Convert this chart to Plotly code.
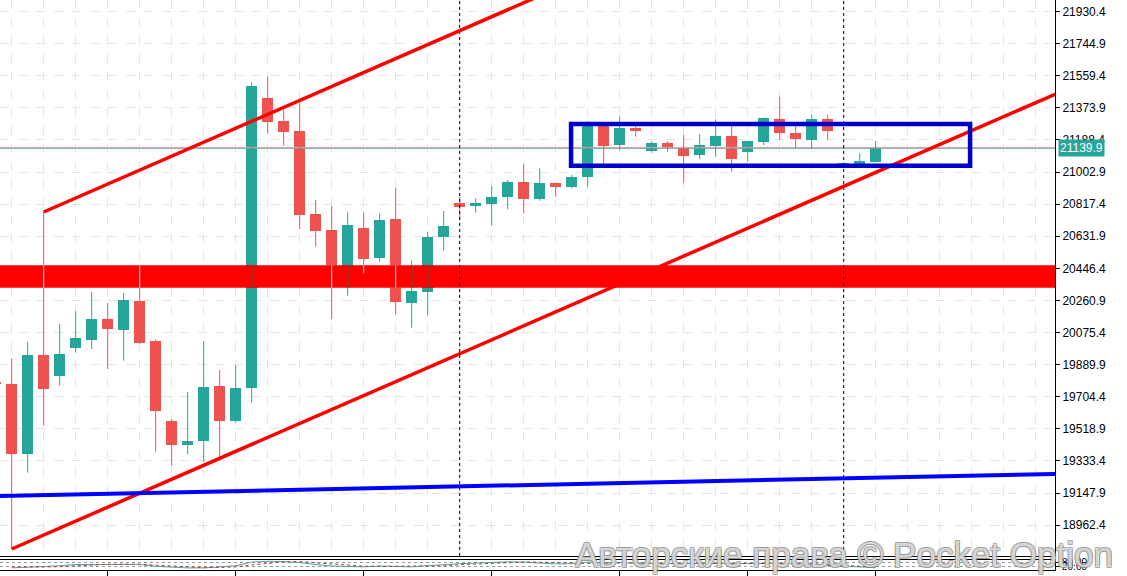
import plotly.graph_objects as go

# ---------------- data ----------------
bar_index = list(range(-1, 55))
opens = [19792.2, 19777.8, 19375.0, 19945.4, 19825.7, 19987.5, 20033.8, 20153.4, 20089.8, 20257.4,
         20026.3, 19563.9, 19427.0, 19450.1, 19766.2, 19565.7, 19756.4, 21432.3, 21297.6, 21239.9,
         20760.2, 20667.7, 20446.4, 20679.3, 20507.6, 20731.3, 20247.6, 20311.2, 20625.5, 20822.0,
         20808.2, 20819.7, 20860.2, 20946.9, 20846.9, 20937.6, 20918.0, 20972.3, 21274.5, 21158.9,
         21255.5, 21126.0, 21172.2, 21143.3, 21101.2, 21153.2, 21210.9, 21120.2, 21178.0, 21307.5,
         21230.0, 21187.8, 21307.5, 21049.1, 21049.1, 21062.4]
highs = [19812.4, 19926.3, 20022.2, 20771.8, 20124.5, 20199.6, 20309.4, 20245.9, 20303.7, 20465.5,
         20036.1, 19573.8, 19731.5, 20026.3, 19858.7, 19885.8, 21521.3, 21553.7, 21361.2, 21403.4,
         20841.1, 20806.4, 20770.0, 20770.0, 20764.3, 20908.7, 20490.3, 20657.9, 20777.5, 20860.2,
         20850.9, 20922.0, 20956.7, 21049.1, 21024.3, 20939.3, 20985.6, 21297.6, 21291.9, 21322.5,
         21268.7, 21182.1, 21182.1, 21216.7, 21222.5, 21307.5, 21268.7, 21182.1, 21319.0, 21438.1,
         21268.7, 21332.3, 21332.3, 21057.8, 21111.0, 21182.1]
lows = [19766.2, 18824.2, 19265.1, 19536.8, 19767.9, 19958.6, 19980.0, 19864.4, 19912.4, 20008.9,
        19386.5, 19305.6, 19371.5, 19328.7, 19357.6, 19554.1, 19669.7, 21226.6, 21154.9, 20673.5,
        20571.2, 20151.7, 20288.1, 20417.5, 20484.5, 20180.6, 20103.1, 20172.5, 20548.1, 20725.5,
        20767.7, 20692.6, 20787.4, 20764.3, 20837.1, 20860.2, 20908.7, 20918.0, 21049.1, 21130.0,
        21206.9, 21114.4, 21120.2, 20941.1, 21078.0, 21091.3, 21004.6, 21062.4, 21158.9, 21187.8,
        21143.3, 21139.9, 21187.8, 21049.1, 21049.1, 21062.4]
closes = [19777.8, 19375.0, 19945.4, 19747.1, 19951.1, 20043.6, 20153.4, 20097.3, 20263.2, 20016.4,
          19623.5, 19427.0, 19448.4, 19760.4, 19565.7, 19754.6, 21499.9, 21293.6, 21235.8, 20754.4,
          20663.7, 20446.4, 20696.6, 20501.9, 20725.5, 20253.4, 20315.2, 20629.0, 20690.8, 20802.4,
          20822.0, 20858.4, 20946.9, 20848.6, 20937.6, 20918.0, 20972.3, 21286.1, 21154.9, 21255.5,
          21245.6, 21172.2, 21143.3, 21097.1, 21158.9, 21210.9, 21078.0, 21182.1, 21313.2, 21226.6,
          21193.6, 21307.5, 21241.6, 21057.8, 21066.5, 21139.9]

band_levels = [20333.7, 20463.7]          # red support zone
channel_slope = 40.3                      # price per bar of the red channel
upper_anchor_bar = 2                      # channel top starts at this bar's high
lower_anchor_bar = 0                      # channel bottom starts at this bar's low
blue_line_x = [-1, 66]
blue_line_y = [19130.0, 19259.2]
box_x = [34.96, 59.9]
box_y = [21038.8, 21280.3]
marker_bars = [28, 52]

y_tick_labels = ["18962.4", "19147.9", "19333.4", "19518.9", "19704.4", "19889.9", "20075.4",
                 "20260.9", "20446.4", "20631.9", "20817.4", "21002.9", "21188.4", "21373.9",
                 "21559.4", "21744.9", "21930.4"]
x_tick_bars = [6, 14, 22, 30, 38, 46, 54]

osc_bars = list(range(0, 55))
osc_main = [20, 25, 30, 40, 52, 52, 58, 58, 52, 35, 25, 20, 20, 28, 40, 75, 83, 80, 70, 52, 38, 33,
            30, 38, 35, 30, 40, 52, 60, 66, 75, 78, 75, 66, 58, 60, 75, 72, 68, 62, 58, 60, 62, 65,
            63, 60, 62, 65, 63, 58, 52, 45, 35, 28, 22]
osc_signal = [30, 28, 28, 32, 40, 48, 54, 56, 55, 46, 36, 28, 22, 24, 30, 48, 65, 78, 80, 68, 55, 42,
              36, 34, 36, 34, 34, 40, 50, 58, 65, 72, 76, 74, 68, 62, 62, 66, 70, 68, 64, 60, 60, 62,
              63, 62, 61, 62, 63, 62, 58, 52, 45, 37, 30]

watermark = "Авторские права © Pocket Option"

# ---------------- styling ----------------
UP = "#26a69a"
DN = "#ef5350"
UP_X = "#2d5b5e"   # green seen through the red zone
DN_X = "#f2b0b0"   # red seen through the red zone
UPW_X = "#1f4f50"
DNW_X = "#f9d0d0"
FONT = "Liberation Sans"
BODY_W = 0.69
x_range = [-0.731, 65.206]
x_span = [-2, 67]

fig = go.Figure()

# red zone (drawn as a filled trace so it sits above the grid, below the candles)
fig.add_trace(go.Scatter(x=[x_span[0], x_span[1], x_span[1], x_span[0], x_span[0]],
                         y=[band_levels[0], band_levels[0], band_levels[1], band_levels[1], band_levels[0]],
                         mode="lines", fill="toself", fillcolor="#ff0000", line=dict(width=0, color="#ff0000"),
                         hoverinfo="skip", showlegend=False, xaxis="x", yaxis="y"))
last = closes[-1]
fig.add_trace(go.Scatter(x=x_span, y=[last + 5, last + 5], mode="lines",
                         line=dict(color="#f0a8a8", width=1), hoverinfo="skip", showlegend=False,
                         xaxis="x", yaxis="y"))
fig.add_trace(go.Scatter(x=x_span, y=[last, last], mode="lines",
                         line=dict(color="#6fa39d", width=1), hoverinfo="skip", showlegend=False,
                         xaxis="x", yaxis="y"))


def wick_trace(sel, color, clip=None):
    xs, ys = [], []
    for i in sel:
        lo, hi = lows[i], highs[i]
        if clip is not None:
            lo, hi = max(lo, clip[0]), min(hi, clip[1])
            if lo >= hi:
                continue
        xs += [bar_index[i], bar_index[i], None]
        ys += [lo, hi, None]
    return go.Scatter(x=xs, y=ys, mode="lines", line=dict(color=color, width=1),
                      hoverinfo="skip", showlegend=False, xaxis="x", yaxis="y")


def body_trace(sel, color, clip=None):
    xs, bases, hs = [], [], []
    for i in sel:
        lo, hi = min(opens[i], closes[i]), max(opens[i], closes[i])
        if clip is not None:
            lo, hi = max(lo, clip[0]), min(hi, clip[1])
            if lo >= hi:
                continue
        xs.append(bar_index[i])
        bases.append(lo)
        hs.append(hi - lo)
    return go.Bar(x=xs, y=hs, base=bases, width=BODY_W, marker=dict(color=color, line=dict(width=0)),
                  hoverinfo="skip", showlegend=False, xaxis="x", yaxis="y")


up_sel = [i for i in range(len(bar_index)) if closes[i] >= opens[i]]
dn_sel = [i for i in range(len(bar_index)) if closes[i] < opens[i]]

fig.add_trace(wick_trace(up_sel, UP))
fig.add_trace(wick_trace(dn_sel, DN))
fig.add_trace(body_trace(up_sel, UP))
fig.add_trace(body_trace(dn_sel, DN))
fig.add_trace(wick_trace(up_sel, UPW_X, band_levels))
fig.add_trace(wick_trace(dn_sel, DNW_X, band_levels))
fig.add_trace(body_trace(up_sel, UP_X, band_levels))
fig.add_trace(body_trace(dn_sel, DN_X, band_levels))

# oscillator panel
fig.add_trace(go.Scatter(x=osc_bars, y=osc_main, mode="lines", line=dict(color="#4aa89f", width=1),
                         hoverinfo="skip", showlegend=False, xaxis="x2", yaxis="y2"))
fig.add_trace(go.Scatter(x=osc_bars, y=osc_signal, mode="lines",
                         line=dict(color="#d03030", width=1, dash="dot"),
                         hoverinfo="skip", showlegend=False, xaxis="x2", yaxis="y2"))

# ---------------- shapes ----------------
shapes = []
for b in marker_bars:
    shapes.append(dict(type="line", xref="x", yref="paper", x0=b, x1=b, y0=14 / 570, y1=1,
                       line=dict(color="#000000", width=1, dash="dot")))
x_end = 66
ua = bar_index.index(upper_anchor_bar)
la = bar_index.index(lower_anchor_bar)
shapes.append(dict(type="line", xref="x", yref="y", x0=upper_anchor_bar, y0=highs[ua], x1=x_end,
                   y1=highs[ua] + channel_slope * (x_end - upper_anchor_bar),
                   line=dict(color="#ff0000", width=3.5)))
shapes.append(dict(type="line", xref="x", yref="y", x0=lower_anchor_bar, y0=lows[la], x1=x_end,
                   y1=lows[la] + channel_slope * (x_end - lower_anchor_bar),
                   line=dict(color="#ff0000", width=3.5)))
shapes.append(dict(type="line", xref="x", yref="y", x0=blue_line_x[0], y0=blue_line_y[0],
                   x1=blue_line_x[1], y1=blue_line_y[1], line=dict(color="#0000ff", width=4)))
shapes.append(dict(type="rect", xref="x", yref="y", x0=box_x[0], x1=box_x[1], y0=box_y[0], y1=box_y[1],
                   line=dict(color="#0000cc", width=4.5), fillcolor="rgba(0,0,0,0)"))

# ---------------- annotations ----------------
annotations = [
    dict(xref="paper", yref="y", x=1, y=last, xanchor="left", yanchor="middle", xshift=3,
         text=f"{last:.1f}", showarrow=False, bgcolor="#26a69a", borderpad=1,
         font=dict(family=FONT, size=12, color="#ffffff")),
    dict(xref="paper", yref="paper", x=1115 / 1055, y=(570 - 554) / 570, xanchor="right",
         yanchor="middle", text=watermark, showarrow=False,
         font=dict(family=FONT, size=35, color="rgba(255,255,255,0.65)",
                   shadow="-1px -1px 0 #8a8a8a, 1px -1px 0 #8a8a8a, -1px 1px 0 #8a8a8a, 1px 1px 0 #8a8a8a")),
]

y_vals = [float(t) for t in y_tick_labels]

fig.update_layout(
    width=1127, height=576,
    margin=dict(l=0, r=72, t=0, b=6, autoexpand=False),
    paper_bgcolor="#ffffff", plot_bgcolor="#ffffff",
    barmode="overlay", bargap=0,
    showlegend=False,
    font=dict(family=FONT, size=12, color="#000000"),
    shapes=shapes,
    annotations=annotations,
    xaxis=dict(domain=[0, 1], anchor="y", range=x_range, showgrid=True, gridcolor="#e4e4e4",
               griddash="dash", gridwidth=1, tickvals=list(range(0, 66, 2)), ticks="",
               showticklabels=False, showline=True, linecolor="#000000", linewidth=1,
               zeroline=False, fixedrange=True),
    yaxis=dict(domain=[14 / 570, 1], anchor="x", side="right", range=[18783.8, 21996.9],
               tickvals=y_vals, ticktext=y_tick_labels, showgrid=True, gridcolor="#e4e4e4",
               griddash="dash", gridwidth=1, ticks="outside", ticklen=4, tickcolor="#000000",
               showline=True, linecolor="#000000", linewidth=1, zeroline=False,
               tickfont=dict(family=FONT, size=12, color="#000000"), fixedrange=True),
    xaxis2=dict(domain=[0, 1], anchor="y2", matches="x", range=x_range, showgrid=False,
                tickvals=x_tick_bars, ticks="outside", ticklen=6, tickcolor="#000000",
                showticklabels=False, showline=True, mirror=True, linecolor="#000000",
                linewidth=1, zeroline=False),
    yaxis2=dict(domain=[0, 10.5 / 570], anchor="x2", side="right", range=[0, 100],
                tickvals=[30, 72], ticktext=["20.00", "80.00"], showgrid=True,
                gridcolor="#9a9a9a", griddash="dot", ticks="outside", ticklen=4,
                tickcolor="#000000", showline=True, linecolor="#000000", linewidth=1,
                zeroline=False, tickfont=dict(family=FONT, size=10, color="#000000")),
)

fig.write_html("out.html", config={"displayModeBar": False},
               post_script="document.body.style.margin='0';document.body.style.padding='0';")
